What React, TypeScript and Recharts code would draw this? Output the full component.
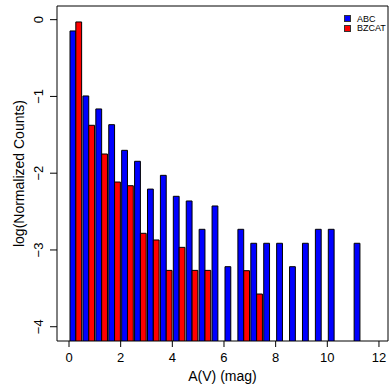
import React from "react";
import { BarChart, Bar, XAxis, YAxis, ReferenceArea, Label, Legend } from "recharts";

const FONT = "'Liberation Sans', Arial, Helvetica, sans-serif";

// histogram bins of A(V), width 0.5 mag
const binStarts = [
  0, 0.5, 1, 1.5, 2, 2.5, 3, 3.5, 4, 4.5, 5, 5.5, 6, 6.5, 7, 7.5, 8, 8.5, 9,
  9.5, 10, 10.5, 11, 11.5,
];
const BIN_WIDTH = 0.5;

// log10 of normalized counts
const abcValues = [
  -0.147, -0.994, -1.163, -1.368, -1.702, -1.845, -2.207, -2.028, -2.301,
  -2.362, -2.731, -2.427, -3.218, -2.731, -2.913, -2.913, -2.913, -3.218,
  -2.913, -2.731, -2.731, null, -2.913, null,
];
const bzcatValues = [
  -0.03, -1.376, -1.75, -2.115, -2.163, -2.783, -2.87, -3.266, -2.966, -3.266,
  -3.266, null, null, -3.27, -3.574, null, null, null, null, null, null, null,
  null, null,
];

const xTicks = [0, 2, 4, 6, 8, 10, 12];
const yTicks = [-4, -3, -2, -1, 0];

const X_DOMAIN = [-0.465, 12.35];
const Y_DOMAIN = [-4.186, 0.178];
const BASE = Y_DOMAIN[0];

const data = binStarts.map((s, i) => ({
  x: s + BIN_WIDTH / 2,
  abc: abcValues[i],
  bzcat: bzcatValues[i],
}));

const minus = (v: number) => (v < 0 ? "\u2212" + Math.abs(v) : String(v));

const YTick = (props: any) => {
  const { x, y, payload } = props;
  return (
    <text
      x={x}
      y={y}
      transform={`rotate(-90, ${x}, ${y})`}
      textAnchor="middle"
      fontSize={13}
      fontFamily={FONT}
      fill="#000"
    >
      {minus(payload.value)}
    </text>
  );
};

const XTitle = (props: any) => {
  const vb = props.viewBox;
  return (
    <text
      x={vb.x + vb.width / 2}
      y={vb.y + 40}
      textAnchor="middle"
      fontSize={14}
      fontFamily={FONT}
      fill="#000"
    >
      A(V) (mag)
    </text>
  );
};

const YTitle = (props: any) => {
  const vb = props.viewBox;
  const x = vb.x + 23.5;
  const y = vb.y + vb.height / 2;
  return (
    <text
      x={x}
      y={y}
      transform={`rotate(-90, ${x}, ${y})`}
      textAnchor="middle"
      fontSize={14}
      fontFamily={FONT}
      fill="#000"
    >
      log(Normalized Counts)
    </text>
  );
};

const renderLegend = (props: any) => (
  <div style={{ fontFamily: FONT, fontSize: 9, color: "#000" }}>
    {props.payload.map((e: any) => (
      <div
        key={e.value}
        style={{ display: "flex", alignItems: "center", height: 9.5 }}
      >
        <span
          style={{
            width: 7,
            height: 7,
            boxSizing: "border-box",
            background: e.color,
            border: "1px solid #333",
            marginRight: 6,
          }}
        />
        <span>{e.value}</span>
      </div>
    ))}
  </div>
);

export default function App() {
  return (
    <div style={{ position: "fixed", left: 0, top: 0, background: "#fff" }}>
      <BarChart
        width={389}
        height={387}
        data={data}
        margin={{ top: 6, right: 1, bottom: 0, left: 0 }}
        barGap={0}
        barCategoryGap={0}
        barSize="50%"
      >
        <XAxis
          type="number"
          dataKey="x"
          domain={X_DOMAIN}
          allowDataOverflow
          ticks={xTicks}
          interval={0}
          height={46}
          axisLine={false}
          tickSize={6}
          tickMargin={6}
          tickLine={{ stroke: "#000" }}
          tick={{ fill: "#000", fontSize: 13, fontFamily: FONT }}
        >
          <Label content={XTitle} />
        </XAxis>
        <YAxis
          type="number"
          domain={Y_DOMAIN}
          allowDataOverflow
          ticks={yTicks}
          interval={0}
          width={57}
          axisLine={false}
          tickSize={7}
          tickMargin={7}
          tickLine={{ stroke: "#000" }}
          tick={<YTick />}
        >
          <Label content={YTitle} />
        </YAxis>
        <Legend
          layout="vertical"
          align="center"
          verticalAlign="middle"
          content={renderLegend}
          wrapperStyle={{ top: 14, left: 344, width: "auto", height: "auto" }}
        />
        <Bar
          name="ABC"
          dataKey={(d: any) => (d.abc == null ? null : [BASE, d.abc])}
          fill="#0000ff"
          stroke="#000"
          strokeWidth={1}
          isAnimationActive={false}
        />
        <Bar
          name="BZCAT"
          dataKey={(d: any) => (d.bzcat == null ? null : [BASE, d.bzcat])}
          fill="#ff0000"
          stroke="#000"
          strokeWidth={1}
          isAnimationActive={false}
        />
        <ReferenceArea
          x1={X_DOMAIN[0]}
          x2={X_DOMAIN[1]}
          y1={Y_DOMAIN[0]}
          y2={Y_DOMAIN[1]}
          fill="none"
          stroke="#000"
          strokeWidth={1}
          ifOverflow="visible"
        />
      </BarChart>
    </div>
  );
}
